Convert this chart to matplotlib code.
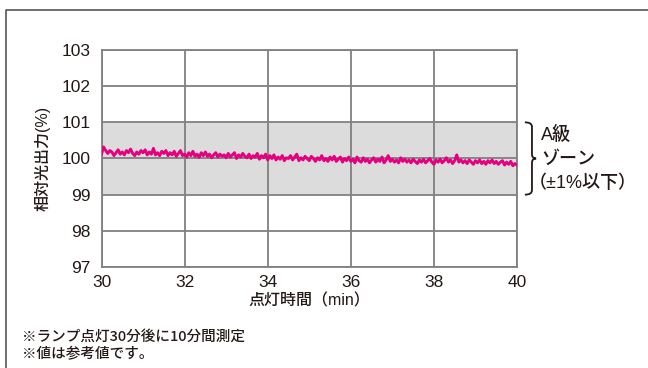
import matplotlib
matplotlib.use("Agg")
import matplotlib.pyplot as plt
import numpy as np
from matplotlib.path import Path
from matplotlib.patches import PathPatch
from matplotlib.lines import Line2D

plt.rcParams['font.family'] = ['Liberation Sans', 'Noto Sans CJK JP', 'DejaVu Sans']

# ---- data ----
x_start, x_step = 30.0, 0.05
output_values = [
    100.12,100.32,100.22,100.14,100.22,100.18,100.08,100.16,100.24,100.12,
    100.18,100.10,100.22,100.16,100.26,100.14,100.08,100.18,100.12,100.22,
    100.16,100.24,100.10,100.18,100.12,100.28,100.10,100.16,100.08,100.20,
    100.14,100.22,100.08,100.16,100.10,100.20,100.06,100.14,100.22,100.08,
    100.12,100.04,100.16,100.08,100.20,100.06,100.12,100.03,100.16,100.08,
    100.18,100.06,100.12,100.02,100.10,100.16,100.04,100.12,100.06,100.10,
    100.02,100.14,100.04,100.10,100.16,100.00,100.10,100.04,100.14,100.06,
    100.02,100.12,100.00,100.08,100.04,100.14,99.98,100.08,100.02,100.12,
    99.96,100.08,100.00,100.10,99.96,100.04,99.98,100.08,99.94,100.02,
    100.00,100.08,99.96,100.04,100.12,99.94,100.02,99.96,100.06,100.00,
    99.94,100.06,100.00,99.92,100.02,99.96,100.08,99.94,100.00,99.92,
    100.04,99.96,100.06,99.92,99.98,100.04,99.90,100.00,99.94,100.04,
    99.92,99.98,99.88,100.04,99.94,99.90,100.02,99.92,99.98,99.88,
    99.96,100.02,99.90,99.98,99.92,100.04,99.88,99.96,100.08,99.92,
    99.98,99.90,99.96,99.88,100.02,99.92,99.98,99.90,99.96,99.88,
    99.98,99.92,99.86,99.96,99.90,99.98,99.88,99.94,100.00,99.90,
    99.84,99.96,99.90,99.98,99.88,99.94,100.02,99.90,99.96,99.86,
    99.94,100.10,99.90,99.96,99.88,99.94,99.86,99.96,99.90,99.84,
    99.94,99.88,99.96,99.86,99.92,99.84,99.94,99.88,99.96,99.86,
    99.92,99.84,99.90,99.94,99.82,99.90,99.84,99.92,99.80,99.86,99.82,
]
x_ticks = [30, 32, 34, 36, 38, 40]
y_ticks = [97, 98, 99, 100, 101, 102, 103]
zone_low, zone_high = 99, 101
x_label = "点灯時間（min）"
y_label = "相対光出力(%)"
zone_text = ["A級", "ゾーン", "（±1%以下）"]
notes = ["※ランプ点灯30分後に10分間測定", "※値は参考値です。"]

times = x_start + x_step * np.arange(len(output_values))

fig = plt.figure(figsize=(6.48, 3.68), dpi=100)
ax = fig.add_axes([101.5/648, 1-267/368, (517-101.5)/648, (267-50)/368])

grid_c = "#808080"
txt_c = "#231815"
ax.axhspan(zone_low, zone_high, color="#dcdcdc", zorder=0, lw=0)
for yv in y_ticks:
    ax.axhline(yv, color=grid_c, lw=1.3, zorder=1)
for xv in x_ticks:
    ax.axvline(xv, color=grid_c, lw=1.3, zorder=1)
ax.plot(times, output_values, color="#e4007f", lw=2.1, zorder=3)

ax.set_xlim(30, 40)
ax.set_ylim(97, 103)
for s in ax.spines.values():
    s.set_color(grid_c)
    s.set_linewidth(1.3)
ax.set_xticks(x_ticks)
ax.set_yticks(y_ticks)
ax.tick_params(length=0, labelsize=12.5, colors=txt_c, pad=8)
ax.tick_params(axis='x', pad=6)
ax.set_xlabel(x_label, fontsize=11.5, color=txt_c, labelpad=2, fontweight='medium')
ax.set_ylabel(y_label, fontsize=11.5, color=txt_c, labelpad=8, fontweight='medium')

# brace
bx0, bx1, bx2 = 40.19, 40.36, 40.46
verts = [(bx0, 101.0), (bx1, 101.0), (bx1, 100.88),
         (bx1, 100.12), (bx1, 100.0), (bx2, 100.0),
         (bx1, 100.0), (bx1, 99.88),
         (bx1, 99.12), (bx1, 99.0), (bx0, 99.0)]
codes = [Path.MOVETO, Path.CURVE3, Path.CURVE3,
         Path.LINETO, Path.CURVE3, Path.CURVE3,
         Path.CURVE3, Path.CURVE3,
         Path.LINETO, Path.CURVE3, Path.CURVE3]
ax.add_patch(PathPatch(Path(verts, codes), fill=False, lw=1.3, color=txt_c, clip_on=False))

fig.text(541/648, 1-135/368, zone_text[0], fontsize=13, color=txt_c, va="center", ha="left", fontweight='medium')
fig.text(541/648, 1-159/368, zone_text[1], fontsize=13, color=txt_c, va="center", ha="left", fontweight='medium')
fig.text(529/648, 1-183/368, zone_text[2], fontsize=13, color=txt_c, va="center", ha="left", fontweight='medium')

jp = ['Noto Sans CJK JP', 'DejaVu Sans']
fig.text(22/648, 1-337/368, notes[0], fontsize=10.5, color=txt_c, va="center", ha="left", fontweight='medium', family=jp)
fig.text(22/648, 1-354/368, notes[1], fontsize=10.5, color=txt_c, va="center", ha="left", fontweight='medium', family=jp)

# frame
fig.add_artist(Line2D([5.5/648, 5.5/648, 1.0], [0.0, 1-9.5/368, 1-9.5/368],
                      transform=fig.transFigure, color="#555555", lw=1.2))

fig.savefig("out.png", dpi=100)
